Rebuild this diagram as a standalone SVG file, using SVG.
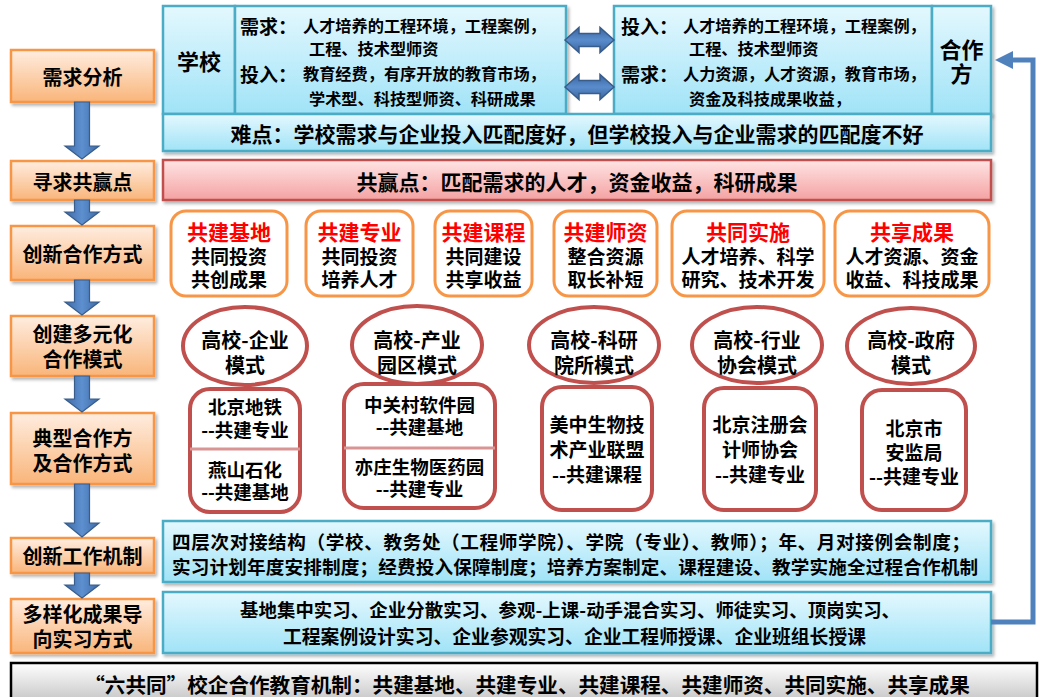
<svg xmlns="http://www.w3.org/2000/svg" width="1046" height="697" viewBox="0 0 1046 697">
<defs>
<linearGradient id="gOr" x1="0" y1="0" x2="0" y2="1"><stop offset="0" stop-color="#FFEDE0"/><stop offset="1" stop-color="#F9B57A"/></linearGradient>
<linearGradient id="gBl" x1="0" y1="0" x2="0" y2="1"><stop offset="0" stop-color="#E4F8FE"/><stop offset="1" stop-color="#A0E3F7"/></linearGradient>
<linearGradient id="gRd" x1="0" y1="0" x2="0" y2="1"><stop offset="0" stop-color="#FFE4E4"/><stop offset="1" stop-color="#F4A2A2"/></linearGradient>
<linearGradient id="gGy" x1="0" y1="0" x2="0" y2="1"><stop offset="0" stop-color="#FFFFFF"/><stop offset="1" stop-color="#C4C4C4"/></linearGradient>
<linearGradient id="gAr" x1="0" y1="0" x2="1" y2="0"><stop offset="0" stop-color="#3E6AA6"/><stop offset="0.5" stop-color="#5D90D0"/><stop offset="1" stop-color="#3E6AA6"/></linearGradient>
<linearGradient id="gArV" x1="0" y1="0" x2="0" y2="1"><stop offset="0" stop-color="#3A65A0"/><stop offset="0.5" stop-color="#5A8CCC"/><stop offset="1" stop-color="#3A65A0"/></linearGradient>
<filter id="sh" x="-10%" y="-10%" width="120%" height="130%"><feDropShadow dx="2" dy="2.5" stdDeviation="1.5" flood-color="#000" flood-opacity="0.3"/></filter>
<style>
text{font-family:"Noto Sans CJK SC","Noto Sans",sans-serif;font-weight:bold;fill:#000;dominant-baseline:central}
.c{text-anchor:middle}
.lbox{fill:url(#gOr);stroke:#F79646;stroke-width:2.5;filter:url(#sh)}
.bbox{fill:url(#gBl);stroke:#4BACC6;stroke-width:2.5;filter:url(#sh)}
.rbox{fill:url(#gRd);stroke:#C0504D;stroke-width:2.5;filter:url(#sh)}
.obox{fill:#fff;stroke:#F79646;stroke-width:3}
.ell{fill:#fff;stroke:#C0504D;stroke-width:4}
.kbox{fill:#fff;stroke:#C0504D;stroke-width:4}
.div{stroke:#D99594;stroke-width:3}
.arr{fill:url(#gAr);stroke:#385D8A;stroke-width:1.2}
.arrh{fill:url(#gArV);stroke:#385D8A;stroke-width:1.5}
.t20{font-size:20px}
.t21{font-size:21px}
.t19{font-size:19px}
.t18{font-size:18.5px}
.t16{font-size:16.2px}
.red{fill:#FF0000}
</style>
</defs>
<rect width="1046" height="697" fill="#fff"/>

<!-- left column -->
<g id="n-xqfx"><rect class="lbox" x="11" y="50" width="143" height="52"/><text class="c t20" x="82.5" y="76">需求分析</text></g>
<g id="n-xqgyd"><rect class="lbox" x="11" y="161" width="143" height="39"/><text class="c t20" x="82.5" y="181">寻求共赢点</text></g>
<g id="n-cxhzfs"><rect class="lbox" x="11" y="226" width="143" height="54"/><text class="c t20" x="82.5" y="253">创新合作方式</text></g>
<g id="n-cjdyh"><rect class="lbox" x="11" y="316" width="143" height="60"/><text class="c t20" x="82.5" y="333">创建多元化</text><text class="c t20" x="82.5" y="358">合作模式</text></g>
<g id="n-dxhzf"><rect class="lbox" x="11" y="413" width="143" height="71"/><text class="c t20" x="82.5" y="437">典型合作方</text><text class="c t20" x="82.5" y="462">及合作方式</text></g>
<g id="n-cxgzjz"><rect class="lbox" x="11" y="538" width="143" height="35"/><text class="c t20" x="82.5" y="555">创新工作机制</text></g>
<g id="n-dyhcg"><rect class="lbox" x="11" y="599" width="143" height="54"/><text class="c t20" x="82.5" y="613">多样化成果导</text><text class="c t20" x="82.5" y="638">向实习方式</text></g>

<!-- top analysis -->
<g id="n-school">
<rect class="bbox" x="163" y="6" width="72" height="108"/>
<rect class="bbox" x="235" y="6" width="331" height="108"/>
<text class="c" x="199" y="60" style="font-size:22px">学校</text>
<text x="240" y="25" style="font-size:19px">需求：</text><text class="t16" x="303" y="25">人才培养的工程环境，工程案例，</text>
<text class="t16" x="309" y="48">工程、技术型师资</text>
<text x="240" y="73" style="font-size:19px">投入：</text><text class="t16" x="303" y="73">教育经费，有序开放的教育市场，</text>
<text class="t16" x="309" y="98">学术型、科技型师资、科研成果</text>
</g>
<g id="n-partner">
<rect class="bbox" x="614" y="6" width="318" height="108"/>
<rect class="bbox" x="932" y="6" width="59" height="108"/>
<text x="621" y="25" style="font-size:19px">投入：</text><text class="t16" x="683" y="25">人才培养的工程环境，工程案例，</text>
<text class="t16" x="689" y="48">工程、技术型师资</text>
<text x="621" y="73" style="font-size:19px">需求：</text><text class="t16" x="683" y="73">人力资源，人才资源，教育市场，</text>
<text class="t16" x="689" y="98">资金及科技成果收益，</text>
<text class="c" x="961.5" y="48" style="font-size:22px">合作</text>
<text class="c" x="961.5" y="72" style="font-size:22px">方</text>
</g>
<g id="n-difficulty"><rect class="bbox" x="163" y="114" width="828" height="37"/><text class="c t21" x="577" y="133">难点：学校需求与企业投入匹配度好，但学校投入与企业需求的匹配度不好</text></g>
<g id="n-winwin"><rect class="rbox" x="163" y="160" width="828" height="40"/><text class="c t21" x="577" y="181">共赢点：匹配需求的人才，资金收益，科研成果</text></g>

<!-- cooperation ways -->
<g id="n-w1"><rect class="obox" x="171" y="211" width="116" height="85" rx="15"/><text class="c t21 red" x="229" y="231">共建基地</text><text class="c t19" x="229" y="255">共同投资</text><text class="c t19" x="229" y="278">共创成果</text></g>
<g id="n-w2"><rect class="obox" x="306" y="211" width="107" height="85" rx="15"/><text class="c t21 red" x="359.5" y="231">共建专业</text><text class="c t19" x="359.5" y="255">共同投资</text><text class="c t19" x="359.5" y="278">培养人才</text></g>
<g id="n-w3"><rect class="obox" x="435" y="211" width="97" height="85" rx="15"/><text class="c t21 red" x="483.5" y="231">共建课程</text><text class="c t19" x="483.5" y="255">共同建设</text><text class="c t19" x="483.5" y="278">共享收益</text></g>
<g id="n-w4"><rect class="obox" x="554" y="211" width="103" height="85" rx="15"/><text class="c t21 red" x="605.5" y="231">共建师资</text><text class="c t19" x="605.5" y="255">整合资源</text><text class="c t19" x="605.5" y="278">取长补短</text></g>
<g id="n-w5"><rect class="obox" x="672" y="211" width="152" height="85" rx="15"/><text class="c t21 red" x="748" y="231">共同实施</text><text class="c t19" x="748" y="255">人才培养、科学</text><text class="c t19" x="748" y="278">研究、技术开发</text></g>
<g id="n-w6"><rect class="obox" x="835" y="211" width="154" height="85" rx="15"/><text class="c t21 red" x="912" y="231">共享成果</text><text class="c t19" x="912" y="255">人才资源、资金</text><text class="c t19" x="912" y="278">收益、科技成果</text></g>

<!-- typical partners -->
<g id="n-c1"><rect class="kbox" x="190" y="389" width="110" height="123" rx="20"/><line class="div" x1="190" y1="449" x2="300" y2="449"/>
<text class="c t18" x="245" y="406">北京地铁</text><text class="c t18" x="245" y="429">--共建专业</text><text class="c t18" x="245" y="469">燕山石化</text><text class="c t18" x="245" y="491">--共建基地</text></g>
<g id="n-c2"><rect class="kbox" x="344" y="384" width="151" height="124" rx="20"/><line class="div" x1="344" y1="448" x2="495" y2="448"/>
<text class="c t18" x="419.5" y="404">中关村软件园</text><text class="c t18" x="419.5" y="426">--共建基地</text><text class="c t18" x="419.5" y="466">亦庄生物医药园</text><text class="c t18" x="419.5" y="488">--共建专业</text></g>
<g id="n-c3"><rect class="kbox" x="542" y="387" width="110" height="123" rx="20"/>
<text class="c t19" x="597" y="423">美中生物技</text><text class="c t19" x="597" y="448">术产业联盟</text><text class="c t19" x="597" y="473">--共建课程</text></g>
<g id="n-c4"><rect class="kbox" x="704" y="388" width="112" height="122" rx="20"/>
<text class="c t19" x="760" y="423">北京注册会</text><text class="c t19" x="760" y="448">计师协会</text><text class="c t19" x="760" y="473">--共建专业</text></g>
<g id="n-c5"><rect class="kbox" x="862" y="390" width="104" height="120" rx="20"/>
<text class="c t19" x="914" y="427">北京市</text><text class="c t19" x="914" y="451">安监局</text><text class="c t19" x="914" y="475">--共建专业</text></g>

<!-- modes -->
<g id="n-m1"><ellipse class="ell" cx="245" cy="346" rx="62" ry="39"/><text class="c t20" x="245" y="339">高校-企业</text><text class="c t20" x="245" y="364">模式</text></g>
<g id="n-m2"><ellipse class="ell" cx="417" cy="345" rx="65" ry="39"/><text class="c t20" x="417" y="339">高校-产业</text><text class="c t20" x="417" y="364">园区模式</text></g>
<g id="n-m3"><ellipse class="ell" cx="594" cy="345" rx="65" ry="38"/><text class="c t20" x="594" y="339">高校-科研</text><text class="c t20" x="594" y="364">院所模式</text></g>
<g id="n-m4"><ellipse class="ell" cx="757" cy="345" rx="65" ry="38"/><text class="c t20" x="757" y="339">高校-行业</text><text class="c t20" x="757" y="364">协会模式</text></g>
<g id="n-m5"><ellipse class="ell" cx="911" cy="346" rx="64" ry="38"/><text class="c t20" x="911" y="339">高校-政府</text><text class="c t20" x="911" y="364">模式</text></g>

<!-- mechanism & practice -->
<g id="n-mech"><rect class="bbox" x="163" y="521" width="828" height="61"/>
<text x="172" y="540" style="font-size:18.6px" textLength="798" lengthAdjust="spacing">四层次对接结构（学校、教务处（工程师学院）、学院（专业）、教师）；年、月对接例会制度；</text>
<text x="172" y="565" style="font-size:18.6px" textLength="806" lengthAdjust="spacing">实习计划年度安排制度；经费投入保障制度；培养方案制定、课程建设、教学实施全过程合作机制</text></g>
<g id="n-prac"><rect class="bbox" x="163" y="592" width="828" height="61"/>
<text x="240" y="609" style="font-size:18.4px" textLength="660" lengthAdjust="spacing">基地集中实习、企业分散实习、参观-上课-动手混合实习、师徒实习、顶岗实习、</text>
<text x="283" y="635" style="font-size:18.8px" textLength="583" lengthAdjust="spacing">工程案例设计实习、企业参观实习、企业工程师授课、企业班组长授课</text></g>

<g id="n-summary"><rect x="11" y="663" width="1026" height="40" fill="url(#gGy)" stroke="#000" stroke-width="2.5"/>
<text class="c" x="527" y="684" style="font-size:20.6px">“六共同”校企合作教育机制：共建基地、共建专业、共建课程、共建师资、共同实施、共享成果</text></g>

<!-- connectors -->
<g id="connectors">
<path class="arr" d="M74.5,102 H89.5 V146 H99 L82,159 L65,146 H74.5 Z"/>
<path class="arr" d="M74.5,200 H89.5 V212 H99 L82,225 L65,212 H74.5 Z"/>
<path class="arr" d="M74.5,280 H89.5 V302 H99 L82,315 L65,302 H74.5 Z"/>
<path class="arr" d="M74.5,376 H89.5 V399 H99 L82,412 L65,399 H74.5 Z"/>
<path class="arr" d="M74.5,484 H89.5 V523 H99 L82,537 L65,523 H74.5 Z"/>
<path class="arr" d="M74.5,573 H89.5 V585 H99 L82,598 L65,585 H74.5 Z"/>
<path class="arrh" d="M565,40 L579,27.5 V33.5 H600 V27.5 L614,40 L600,52.5 V46.5 H579 V52.5 Z"/>
<path class="arrh" d="M565,87 L579,74.5 V80.5 H600 V74.5 L614,87 L600,99.5 V93.5 H579 V99.5 Z"/>
<polyline points="991,622 1033,622 1033,60 1010,60" fill="none" stroke="#4F81BD" stroke-width="5"/>
<polygon points="995,60 1013,51 1013,69" fill="#4F81BD"/>
</g>
</svg>
